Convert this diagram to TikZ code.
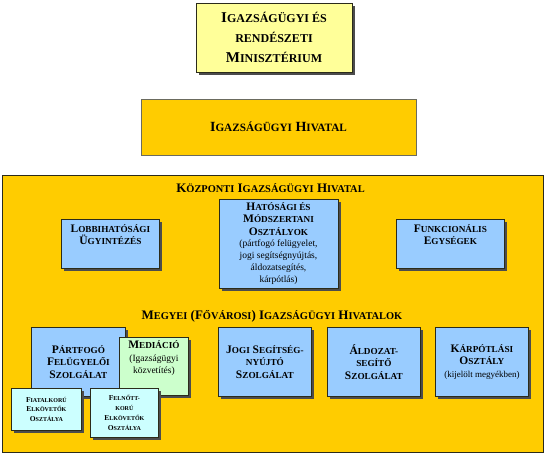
\documentclass[tikz,border=0pt]{standalone}
\usepackage{fontspec}
\setmainfont{Liberation Serif}
\usepackage{tikz}
\usetikzlibrary{shadows}
\definecolor{MinYellow}{HTML}{FFFF99}
\definecolor{HivGold}{HTML}{FFCC00}
\definecolor{UnitBlue}{HTML}{99CCFF}
\definecolor{MedGreen}{HTML}{CCFFCC}
\definecolor{DeptCyan}{HTML}{CCFFFF}
\definecolor{EdgeDark}{HTML}{2B2B1A}
% small-caps look: rest of the word set smaller
\makeatletter
\newcommand\sm[1]{{\fontsize{\dimexpr\f@size pt*4/5\relax}{\f@baselineskip}\selectfont #1}}
\makeatother

\begin{document}
\begin{tikzpicture}[
        x=1pt,y=-1pt,
        every node/.style={align=center,inner sep=1pt,text=black},
        shade/.style={drop shadow={shadow xshift=3pt,shadow yshift=-3pt,fill=black!70,opacity=1}},
        topbox/.style={draw=EdgeDark,line width=0.8pt,fill=MinYellow,shade,minimum width=156pt,minimum height=69pt,font=\fontsize{15}{20}\selectfont\bfseries},
        hivbox/.style={draw=EdgeDark!70,line width=0.8pt,fill=HivGold,minimum width=275pt,minimum height=56pt,font=\fontsize{14}{16}\selectfont\bfseries},
        unit/.style={draw=EdgeDark,line width=0.8pt,fill=UnitBlue,shade,minimum width=93pt,minimum height=69pt,font=\fontsize{11.5}{12.5}\selectfont\bfseries},
        subunit/.style={unit,fill=DeptCyan,font=\fontsize{7.5}{9.7}\selectfont\bfseries},
        title/.style={font=\fontsize{13}{15}\selectfont\bfseries}
      ]
      \useasboundingbox (0,0) rectangle (547,460);

      \node[topbox] (minisz) at (274,37.5) {I\sm{GAZSÁGÜGYI ÉS}\\\sm{RENDÉSZETI}\\M\sm{INISZTÉRIUM}};
      \node[hivbox] (hivatal) at (278.5,127) {I\sm{GAZSÁGÜGYI} H\sm{IVATAL}};

      \node[draw=EdgeDark,line width=0.8pt,fill=HivGold,minimum width=541pt,minimum height=277pt] (frame) at (272.5,313.5) {};

      % central office
      \node[title] (kozp) at (270.5,188) {K\sm{ÖZPONTI} I\sm{GAZSÁGÜGYI} H\sm{IVATAL}};
      \node[unit,minimum width=98pt,minimum height=49pt,anchor=north west] (lobbi) at (61,219) {L\sm{OBBIHATÓSÁGI}\\Ü\sm{GYINTÉZÉS}\\[6pt]};
      \node[unit,minimum width=119pt,minimum height=89pt,font=\fontsize{11.5}{10}\selectfont\bfseries] (hatosagi) at (278.5,243.5) {H\sm{ATÓSÁGI ÉS}\\[2.5pt]M\sm{ÓDSZERTANI}\\[2.5pt]O\sm{SZTÁLYOK}\\[1pt]{\mdseries\fontsize{9.5}{10}\selectfont (pártfogó felügyelet,}\\[2pt]{\mdseries\fontsize{9.5}{10}\selectfont jogi segítségnyújtás,}\\[2pt]{\mdseries\fontsize{9.5}{10}\selectfont áldozatsegítés,}\\[2pt]{\mdseries\fontsize{9.5}{10}\selectfont kárpótlás)}};
      \node[unit,minimum width=108pt,minimum height=49pt,anchor=north west] (funkc) at (396,219) {F\sm{UNKCIONÁLIS}\\E\sm{GYSÉGEK}\\[6pt]};

      % county offices
      \node[title] (megyei) at (272,316) {M\sm{EGYEI} (F\sm{ŐVÁROSI}) I\sm{GAZSÁGÜGYI} H\sm{IVATALOK}};
      \node[unit,minimum width=94pt,anchor=north west] (partfogo) at (31,327) {P\sm{ÁRTFOGÓ}\\F\sm{ELÜGYELŐI}\\S\sm{ZOLGÁLAT}};
      \node[unit,fill=MedGreen,minimum width=69pt,minimum height=58pt,anchor=north west] (mediacio) at (119,337) {M\sm{EDIÁCIÓ}\\{\mdseries\fontsize{9.5}{12}\selectfont (Igazságügyi}\\{\mdseries\fontsize{9.5}{10}\selectfont közvetítés)}\\[6pt]};
      \node[subunit,minimum width=70pt,minimum height=42pt,anchor=north west] (fiatal) at (11,388) {F\sm{IATALKORÚ}\\E\sm{LKÖVETŐK}\\O\sm{SZTÁLYA}};
      \node[subunit,minimum width=68pt,minimum height=49pt,anchor=north west] (felnott) at (90,388) {F\sm{ELNŐTT-}\\\sm{KORÚ}\\E\sm{LKÖVETŐK}\\O\sm{SZTÁLYA}};
      \node[unit,anchor=north west] (jogi) at (218,327) {J\sm{OGI} S\sm{EGÍTSÉG-}\\\sm{NYÚJTÓ}\\S\sm{ZOLGÁLAT}};
      \node[unit,anchor=north west] (aldozat) at (327,327) {Á\sm{LDOZAT-}\\\sm{SEGÍTŐ}\\S\sm{ZOLGÁLAT}};
      \node[unit,anchor=north west] (karpot) at (435,327) {K\sm{ÁRPÓTLÁSI}\\O\sm{SZTÁLY}\\{\mdseries\fontsize{9}{10}\selectfont (kijelölt megyékben)}};
    \end{tikzpicture}
\end{document}
